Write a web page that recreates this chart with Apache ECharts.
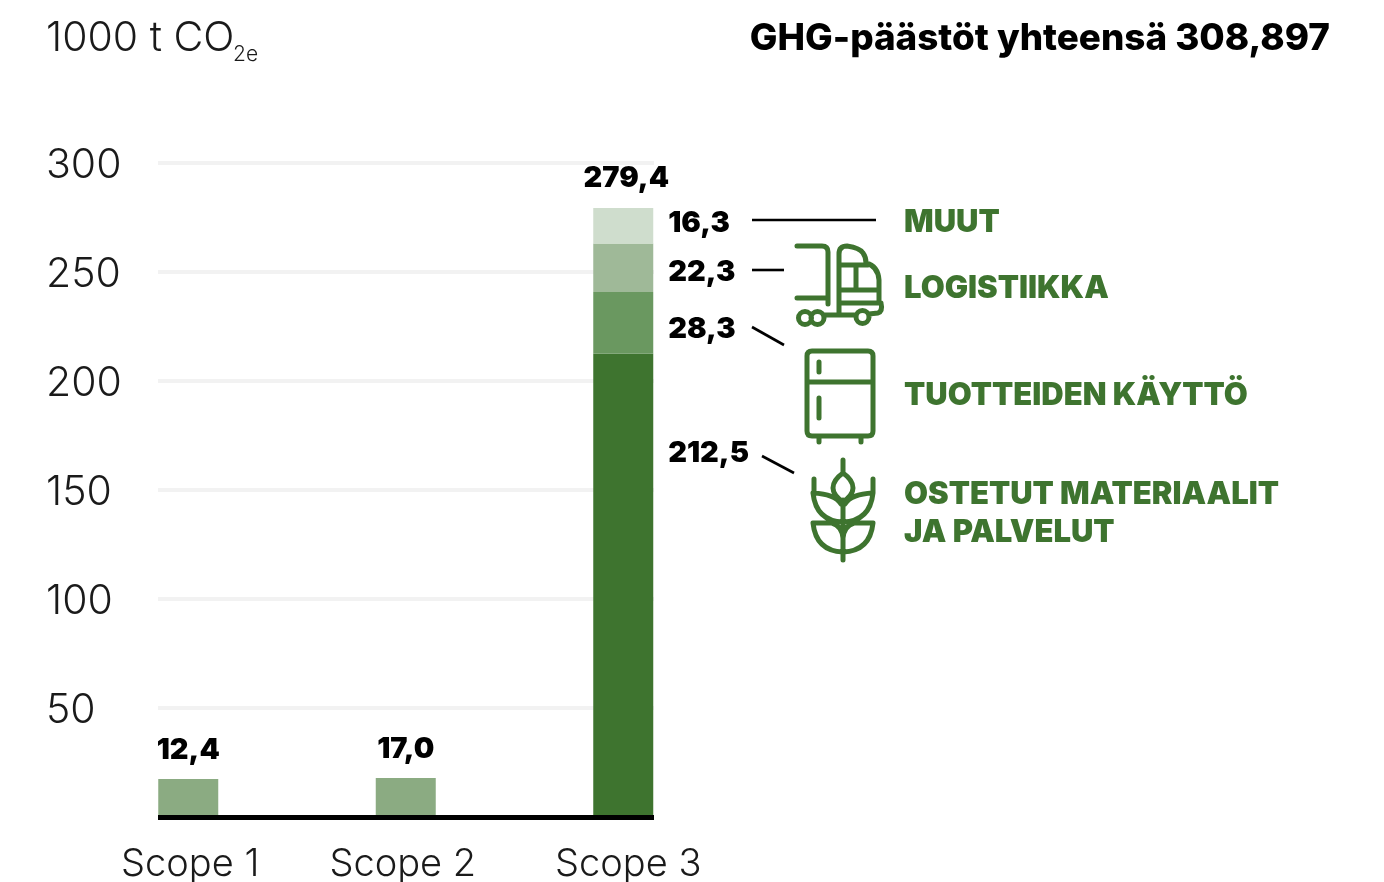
<!DOCTYPE html>
<html>
<head>
    <meta charset="utf-8">
    <script src="https://cdn.jsdelivr.net/npm/echarts@6/dist/echarts.min.js"></script>
    <style>
        html, body { margin: 0; padding: 0; background: #fff; }
    </style>
</head>
<body>
<div id="main" style="width:1384px;height:882px;"></div>
<script type="text/javascript">
    var categories = ['Scope 1', 'Scope 2', 'Scope 3'];
    var yTicks = [0, 50, 100, 150, 200, 250, 300];

    // bar heights as drawn in the picture, the printed figures are separate
    var scope12Heights = [17.4, 17.9, null];
    var scope12Labels = ['12,4', '17,0', ''];
    var materiaalit = [null, null, 212.5];
    var kaytto = [null, null, 28.3];
    var logistiikka = [null, null, 22.3];
    var muut = [null, null, 16.3];
    var totalMark = [null, null, 0];
    var totalLabel = '279,4';

    var FONT = 'Inter';
    var GREEN = '#3e742f';

    var truck = 'M797 246H822Q828 246 828 252V304M797 298H828' +
        'M811.5 318A6.5 6.5 0 1 1 798.5 318A6.5 6.5 0 1 1 811.5 318M824 318A6.5 6.5 0 1 1 811 318A6.5 6.5 0 1 1 824 318' +
        'M869 317A6.5 6.5 0 1 1 856 317A6.5 6.5 0 1 1 869 317M825 315H856M869 314L878 313Q883 311 881 303' +
        'M839 314V254Q839 246 847 246Q860 248 863 253Q866 257 866 263Q878 266 879 280V303' +
        'M840 265H868M856 265V290M840 290H879M840 303H881';
    var fridge = 'M812 351H868Q873 351 873 356V431Q873 436 868 436H812Q807 436 807 431V356Q807 351 812 351Z' +
        'M807 382H873M819 362V372M819 398V418M819 436V442M861 436V442';
    var wheat = 'M843 460V473M843 473Q833 480 833 488Q833 495 843 502Q853 495 853 488Q853 480 843 473Z' +
        'M814 479V493M873 479V493M813 493Q835 494 841 504M873 493Q851 494 845 504' +
        'M813 493Q816 521 843 522Q870 521 873 493M813 523H832Q842 526 843 538M873 523H854Q844 526 843 538' +
        'M813 523Q816 551 843 552Q870 551 873 523M843 500V560';

    // graphic component has no plain svg path type, so register the icons as shapes
    echarts.graphic.registerShape('truckIcon', echarts.graphic.extendPath(truck, {}));
    echarts.graphic.registerShape('fridgeIcon', echarts.graphic.extendPath(fridge, {}));
    echarts.graphic.registerShape('wheatIcon', echarts.graphic.extendPath(wheat, {}));

    function note(x, y, text, size, weight, color, align) {
        return {
            type: 'text', x: x, y: y, silent: true,
            style: {
                text: text, fill: color, align: align || 'left', verticalAlign: 'middle',
                fontFamily: FONT, fontSize: size, fontWeight: weight
            }
        };
    }
    function leader(x1, y1, x2, y2) {
        return {
            type: 'line', silent: true,
            shape: { x1: x1, y1: y1, x2: x2, y2: y2 },
            style: { stroke: '#000', lineWidth: 2.6 }
        };
    }
    function icon(name) {
        return {
            type: name, silent: true,
            style: { fill: null, stroke: GREEN, lineWidth: 5, lineCap: 'round', lineJoin: 'round' }
        };
    }

    function sideLabel(text, dy) {
        return {
            show: true, position: 'right', distance: 15, offset: [0, dy],
            formatter: text, color: '#000',
            fontFamily: FONT, fontSize: 29, fontWeight: 900
        };
    }
    function stackBar(name, data, color, label) {
        return {
            name: name, type: 'bar', stack: 'scope', xAxisIndex: 0, yAxisIndex: 0,
            barWidth: 60, data: data, itemStyle: { color: color }, label: label, z: 3
        };
    }

    var scopeStyle = { color: '#1a1a1a', fontFamily: FONT, fontSize: 38, fontWeight: 300 };

    var myChart = echarts.init(document.getElementById('main'));
    myChart.setOption({
        animation: false,
        backgroundColor: '#fff',
        grid: [
            // outerBoundsMode none: v6 otherwise shrinks the grid to keep labels inside
            { left: 79.5, top: 163, width: 652.5, height: 654, outerBoundsMode: 'none' },
            { left: 158, top: 163, width: 496, height: 654, outerBoundsMode: 'none' }
        ],
        xAxis: [
            {
                gridIndex: 0, type: 'category', data: categories,
                axisLine: { show: false }, axisTick: { show: false },
                axisLabel: {
                    margin: 29,
                    formatter: function (v, i) { return '{s' + i + '|' + v + '}'; },
                    rich: {
                        s0: Object.assign({ padding: [0, 0, 0, 4] }, scopeStyle),
                        s1: Object.assign({ padding: [0, 6, 0, 0] }, scopeStyle),
                        s2: Object.assign({ padding: [0, 0, 0, 10] }, scopeStyle)
                    }
                }
            },
            {
                gridIndex: 1, type: 'value', min: 0, max: 1, z: 5,
                axisLine: { show: true, onZero: false, lineStyle: { color: '#000', width: 5, cap: 'butt' } },
                axisTick: { show: false }, axisLabel: { show: false }, splitLine: { show: false }
            }
        ],
        yAxis: [
            { gridIndex: 0, type: 'value', min: 0, max: 300, show: false, splitLine: { show: false } },
            {
                gridIndex: 1, type: 'value', min: yTicks[0], max: yTicks[yTicks.length - 1], interval: 50,
                axisLine: { show: false }, axisTick: { show: false },
                splitLine: { show: true, lineStyle: { color: '#f2f2f2', width: 4 } },
                axisLabel: {
                    margin: 112, align: 'left',
                    formatter: function (v) { return v === 0 ? '' : '{n|' + v + '}'; },
                    rich: {
                        n: { padding: [5, 0, 0, 0], color: '#1a1a1a', fontFamily: FONT, fontSize: 41, fontWeight: 300 }
                    }
                }
            }
        ],
        series: [
            stackBar('Scope 1 ja 2', scope12Heights, '#8bab82', {
                show: true, position: 'top', distance: 14, color: '#000',
                fontFamily: FONT, fontSize: 29, fontWeight: 900,
                formatter: function (p) { return scope12Labels[p.dataIndex]; }
            }),
            stackBar('Ostetut materiaalit ja palvelut', materiaalit, GREEN, sideLabel('212,5', -132)),
            stackBar('Tuotteiden käyttö', kaytto, '#6a9860', sideLabel('28,3', 6)),
            stackBar('Logistiikka', logistiikka, '#9fb998', sideLabel('22,3', 5)),
            stackBar('Muut', muut, '#cfddcd', sideLabel('16,3', -2)),
            stackBar('Yhteensä', totalMark, 'transparent', {
                show: true, position: 'top', distance: 15, offset: [3, 0], color: '#000',
                fontFamily: FONT, fontSize: 29, fontWeight: 900, formatter: totalLabel
            })
        ],
        graphic: { elements: [
            note(46, 39, '1000 t CO', 41, 300, '#1a1a1a'),
            note(233, 55, '2e', 21, 300, '#1a1a1a'),
            note(1330, 39, 'GHG-päästöt yhteensä 308,897', 36.8, 800, '#000', 'right'),
            leader(752, 220, 876, 220),
            leader(752, 270, 784, 270),
            leader(752, 327, 784, 345),
            leader(762, 456, 794, 473),
            icon('truckIcon'), icon('fridgeIcon'), icon('wheatIcon'),
            note(904, 223, 'MUUT', 31, 900, GREEN),
            note(904, 289, 'LOGISTIIKKA', 31, 900, GREEN),
            note(904, 396, 'TUOTTEIDEN KÄYTTÖ', 31, 900, GREEN),
            note(904, 495, 'OSTETUT MATERIAALIT', 31, 900, GREEN),
            note(904, 533, 'JA PALVELUT', 31, 900, GREEN)
        ] }
    });
</script>
</body>
</html>
